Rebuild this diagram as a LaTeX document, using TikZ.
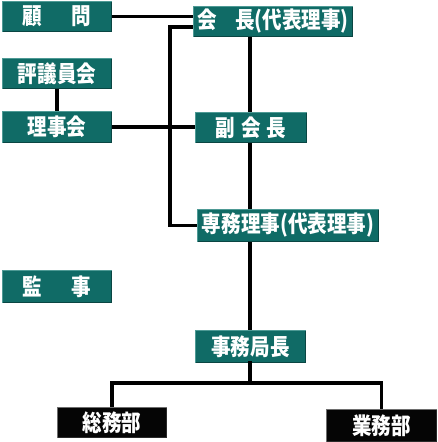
\documentclass[tikz,border=0pt]{standalone}
\usepackage{fontspec}
\newfontfamily\jp{Noto Sans CJK JP}[FakeStretch=0.85]
\definecolor{teal1}{HTML}{106B66}
\definecolor{teallt}{HTML}{4E9A95}
\definecolor{tealdk}{HTML}{0A4643}
\definecolor{blk}{HTML}{050505}
\definecolor{blklt}{HTML}{6E6E6E}
\definecolor{blkdk}{HTML}{2A2A2A}
\tikzset{
  tbox/.style={rectangle,fill=teal1,text=white,inner sep=0pt,font=\jp\bfseries\fontsize{23}{24}\selectfont},
  bbox/.style={tbox,fill=blk},
  conn/.style={line width=3.6pt,black},
}
\newcommand{\bevel}[3]{%
  \draw[#2,line width=1.4pt] ([xshift=0.7pt,yshift=0.7pt]#1.south west) -- ([xshift=0.7pt,yshift=-0.7pt]#1.north west) -- ([xshift=-0.7pt,yshift=-0.7pt]#1.north east);
  \draw[#3,line width=1.4pt] ([xshift=0.7pt,yshift=0.7pt]#1.south west) -- ([xshift=-0.7pt,yshift=0.7pt]#1.south east) -- ([xshift=-0.7pt,yshift=-0.7pt]#1.north east);
}
\newcommand{\boxat}[7]{% name style x1 y1 x2 y2 text
  \node[#2,minimum width=#5pt-#3pt,minimum height=#6pt-#4pt] (#1) at ({(#3+#5)/2},{(#4+#6)/2}) {#7};
}
\begin{document}
\begin{tikzpicture}[x=1pt,y=-1pt]
\useasboundingbox (0,0) rectangle (437,442);
\coordinate (sp) at (250,0);
\coordinate (k1) at (170,27);
\coordinate (bus) at (0,383);
\boxat{komon}{tbox}{2}{1}{112}{32}{顧\hspace{1.3em}問}
\boxat{hyogi}{tbox}{2}{58}{112}{89}{評議員会}
\boxat{riji}{tbox}{2}{111}{112}{143}{理事会}
\boxat{kaicho}{tbox}{193}{6}{353}{37}{会\hspace{0.8em}長(代表理事)}
\boxat{fuku}{tbox}{195}{112}{307}{143}{副\hspace{0.25em}会\hspace{0.25em}長}
\boxat{senmu}{tbox}{197}{209}{379}{242}{専務理事(代表理事)}
\boxat{kanji}{tbox}{2}{270}{112}{303}{監\hspace{1.3em}事}
\boxat{jimu}{tbox}{195}{330}{306}{363}{事務局長}
\boxat{somu}{bbox}{57}{407}{167}{438}{総務部}
\boxat{gyomu}{bbox}{326}{409}{437}{442}{業務部}
\foreach \n in {komon,hyogi,riji,kaicho,fuku,senmu,kanji,jimu}{\bevel{\n}{teallt}{tealdk}}
\foreach \n in {somu,gyomu}{\bevel{\n}{blklt}{blkdk}}
\draw[conn] (komon.east) -- (komon.east -| kaicho.west);
\draw[conn] (kaicho.west |- k1) -- (k1) -- (k1 |- senmu.west) -- (senmu.west);
\draw[conn] (hyogi.south) -- (riji.north);
\draw[conn] (riji.east) -- (riji.east -| fuku.west);
\draw[conn] (kaicho.south -| sp) -- (fuku.north -| sp);
\draw[conn] (fuku.south -| sp) -- (senmu.north -| sp);
\draw[conn] (senmu.south -| sp) -- (jimu.north -| sp);
\draw[conn,line cap=rect] (jimu.south -| sp) -- (sp |- bus);
\draw[conn] (somu.north) -- (somu.north |- bus) -- (gyomu.north |- bus) -- (gyomu.north);
\end{tikzpicture}
\end{document}
